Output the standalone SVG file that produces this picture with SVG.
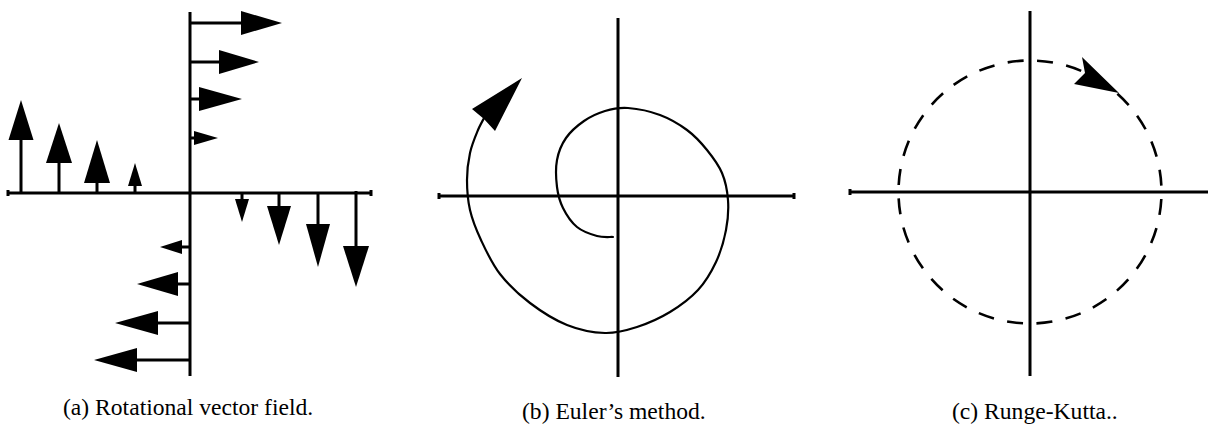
<svg xmlns="http://www.w3.org/2000/svg" width="1208" height="428" viewBox="0 0 1208 428">
<style>
.axis{stroke:#000;stroke-width:3;fill:none}
.shaft{stroke:#000;stroke-width:3;fill:none}
.head{fill:#000;stroke:none}
.curve{stroke:#000;stroke-width:2.2;fill:none;stroke-linejoin:round;stroke-linecap:round}
.dash{stroke:#000;stroke-width:2.6;fill:none;stroke-dasharray:16 13.5;stroke-dashoffset:22.5}
.cap{font-family:"Liberation Serif","Times New Roman",serif;font-size:23.6px;fill:#000}
</style>
<rect width="1208" height="428" fill="#fff"/>
<g id="panel-a">
  <g id="axes-a">
    <path class="axis" d="M190 12V376M7 193H372M8 190V196M371 190V196"/>
  </g>
  <g id="arrows-up">
    <path class="shaft" d="M21 193V138M59 193V161M97 193V181M135 193V185"/>
    <polygon class="head" points="21,100 8.5,140 33.5,140"/>
    <polygon class="head" points="59,123 46,163 72,163"/>
    <polygon class="head" points="97,140 84,183 110,183"/>
    <polygon class="head" points="135,163 128,186 142,186"/>
  </g>
  <g id="arrows-right">
    <path class="shaft" d="M190 23H243M190 62H221M190 99H201M190 138H196"/>
    <polygon class="head" points="282,23 241,11 241,35"/>
    <polygon class="head" points="259,62 219,50 219,74"/>
    <polygon class="head" points="242,99 199,87 199,111"/>
    <polygon class="head" points="218,138 194,131 194,145"/>
  </g>
  <g id="arrows-down">
    <path class="shaft" d="M242 193V201M279 193V208M318 193V226M356 191V248"/>
    <polygon class="head" points="242,222 235,199 249,199"/>
    <polygon class="head" points="279,245 267,206 291,206"/>
    <polygon class="head" points="318,267 306,224 330,224"/>
    <polygon class="head" points="356,287 343,246 369,246"/>
  </g>
  <g id="arrows-left">
    <path class="shaft" d="M190 247H180M190 284H176M190 323H156M190 360H135"/>
    <polygon class="head" points="160,247 182,240 182,254"/>
    <polygon class="head" points="137,284 178,272 178,296"/>
    <polygon class="head" points="115,323 158,311 158,335"/>
    <polygon class="head" points="94,360 137,348 137,372"/>
  </g>
</g>
<g id="panel-b">
  <g id="axes-b">
    <path class="axis" d="M618 18V377M438 196H795M439 193V199M794 193V199"/>
  </g>
  <g id="spiral">
    <path class="curve" d="M613 237 C610.3 236.8 603 237.7 597 236 C591 234.3 582.7 231.7 577 227 C571.3 222.3 566.3 214.7 563 208 C559.7 201.3 558 195 557 187 C556 179 555.5 168.2 557 160 C558.5 151.8 561.5 144.5 566 138 C570.5 131.5 577.5 125.5 584 121 C590.5 116.5 597.7 113.2 605 111 C612.3 108.8 618.8 107.3 628 108 C637.2 108.7 650.2 111.3 660 115 C669.8 118.7 679.2 124.2 687 130 C694.8 135.8 701.2 142.8 707 150 C712.8 157.2 718.5 164.7 722 173 C725.5 181.3 727.3 190.5 728 200 C728.7 209.5 728 219.7 726 230 C724 240.3 720.7 252 716 262 C711.3 272 705.7 281.7 698 290 C690.3 298.3 680.2 305.8 670 312 C659.8 318.2 647.8 323.5 637 327 C626.2 330.5 616.7 333.3 605 333 C593.3 332.7 579.5 330 567 325 C554.5 320 541.2 311.5 530 303 C518.8 294.5 508.2 284.5 500 274 C491.8 263.5 486 250.7 481 240 C476 229.3 472.3 220 470 210 C467.7 200 467 189.5 467 180 C467 170.5 468.2 161.3 470 153 C471.8 144.7 475.2 136.7 478 130 C480.8 123.3 485.5 115.8 487 113"/>
    <polygon class="head" points="522,78 472,109 484,119 495,131"/>
  </g>
</g>
<g id="panel-c">
  <g id="axes-c">
    <path class="axis" d="M1030 11V376M849 192H1208M850 189V195"/>
  </g>
  <g id="circle">
    <path class="dash" d="M1161.5 192 A131.5 131.5 0 1 1 898.5 192 A131.5 131.5 0 1 1 1161.5 192"/>
    <polygon class="head" points="1119,93 1082,57 1085,73 1074,84"/>
  </g>
</g>
<g id="captions">
  <text class="cap" x="63" y="415">(a) Rotational vector field.</text>
  <text class="cap" x="522" y="419">(b) Euler’s method.</text>
  <text class="cap" x="952" y="419">(c) Runge-Kutta..</text>
</g>
</svg>
